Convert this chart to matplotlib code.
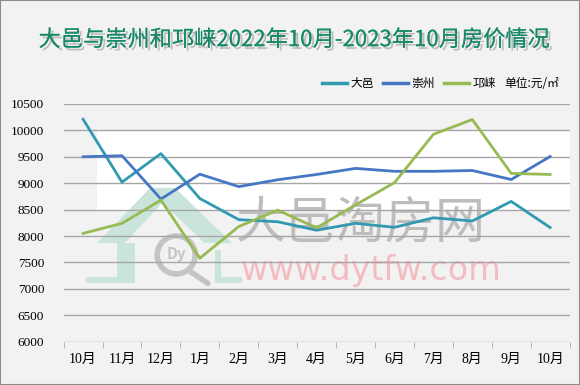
import matplotlib
matplotlib.use("Agg")
import matplotlib.pyplot as plt
import matplotlib.patheffects as pe
from matplotlib.patches import Polygon, Rectangle, Ellipse
import numpy as np

plt.rcParams["font.family"] = ["Noto Sans CJK SC", "DejaVu Sans"]

# data (元/㎡)
months = ["10月", "11月", "12月", "1月", "2月", "3月", "4月",
          "5月", "6月", "7月", "8月", "9月", "10月"]
dayi = [10210, 9020, 9560, 8710, 8310, 8270, 8110, 8240, 8165, 8345, 8285, 8655, 8160]
chongzhou = [9500, 9520, 8700, 9170, 8935, 9065, 9165, 9280, 9225, 9225, 9240, 9070, 9505]
qionglai = [8050, 8240, 8680, 7580, 8180, 8490, 8155, 8590, 9010, 9925, 10205, 9185, 9165]
yticks = list(range(6000, 10501, 500))

bg = "#F2F2F2"
fig = plt.figure(figsize=(5.8, 3.85), dpi=100, facecolor=bg)
fig.patches.append(Rectangle((0, 0), 1, 1, transform=fig.transFigure,
                             fill=False, edgecolor="#8C8C8C", linewidth=1.5))
ax = fig.add_axes([0.1097, 0.1125, 0.8724, 0.6175])
ax.set_facecolor(bg)

x = np.arange(len(months))
ax.set_xlim(-0.5, len(months) - 0.5)
ax.set_ylim(6000, 10500)

# white band behind the upper lines (as in the source image)
ax.add_patch(Rectangle((0.066, 8500), 0.934, 1500, transform=ax.get_yaxis_transform(),
                       facecolor="white", edgecolor="none", zorder=0))

# watermark: house logo + site name
wm = "#C9E4DA"
roof = Polygon([(0.066, 0.415), (0.171, 0.647), (0.220, 0.647), (0.333, 0.415),
                (0.279, 0.415), (0.195, 0.584), (0.121, 0.415)],
               closed=True, transform=ax.transAxes, facecolor=wm, edgecolor="none", zorder=1)
left_wall = Polygon([(0.1055, 0.415), (0.141, 0.415), (0.141, 0.247), (0.044, 0.247),
                     (0.044, 0.272), (0.1055, 0.272)],
                    closed=True, transform=ax.transAxes, facecolor=wm, edgecolor="none", zorder=1)
right_wall = Polygon([(0.299, 0.386), (0.311, 0.386), (0.311, 0.272), (0.353, 0.272),
                      (0.353, 0.247), (0.299, 0.247)],
                     closed=True, transform=ax.transAxes, facecolor=wm, edgecolor="none", zorder=1)
for p in (roof, left_wall, right_wall):
    ax.add_patch(p)
ax.add_patch(Ellipse((0.2225, 0.365), 0.075, 0.16, transform=ax.transAxes, fill=False,
                     edgecolor="#C4C4C4", linewidth=4, zorder=1))
ax.plot([0.247, 0.285], [0.30, 0.245], transform=ax.transAxes, color="#C4C4C4",
        linewidth=4, solid_capstyle="round", zorder=1)
ax.text(0.222, 0.37, "Dy", transform=ax.transAxes, fontsize=11, color="#C4C4C4",
        ha="center", va="center", style="italic", fontweight="bold", zorder=1)
ax.text(0.34, 0.495, "大邑淘房网", transform=ax.transAxes, fontsize=36, color="#BDBDBD",
        ha="left", va="center", zorder=1)
ax.text(0.35, 0.30, "www.dytfw.com", transform=ax.transAxes, fontsize=24, color="#F2BCC0",
        family=["DejaVu Sans"], ha="left", va="center", zorder=1)

for y in yticks:
    ax.axhline(y, color="#A6A6A6", linewidth=1, zorder=2)

ax.plot(x, dayi, color="#3199B0", linewidth=2, label="大邑", zorder=3)
ax.plot(x, chongzhou, color="#4677C4", linewidth=2, label="崇州", zorder=3)
ax.plot(x, qionglai, color="#98BA52", linewidth=2, label="邛崃", zorder=3)

for s in ax.spines.values():
    s.set_visible(False)

ax.set_yticks(yticks)
ax.set_yticklabels([str(v) for v in yticks], family=["Liberation Serif", "DejaVu Serif"],
                   fontsize=9.5)
ax.tick_params(axis="y", length=0, pad=14)

ax.set_xticks(x)
ax.set_xticklabels(months, family=["Liberation Serif", "Noto Sans CJK SC"], fontsize=10)
ax.set_xticks(np.arange(-0.5, len(months)), minor=True)
ax.tick_params(axis="x", which="major", length=0, pad=8)
ax.tick_params(axis="x", which="minor", length=4, color="#A6A6A6", direction="out")

title = fig.text(0.508, 0.897, "大邑与崇州和邛崃2022年10月-2023年10月房价情况",
                 ha="center", va="center", fontsize=16, color="#178A69")
title.set_path_effects([pe.withSimplePatchShadow(offset=(2, -2), shadow_rgbFace="#888888", alpha=0.5),
                        pe.Normal()])

leg = ax.legend(ncol=3, loc="center left", bbox_to_anchor=(0.555, 0.784),
                bbox_transform=fig.transFigure, frameon=False, fontsize=8.5,
                borderpad=0, borderaxespad=0,
                handlelength=2.1, handletextpad=0.3, columnspacing=0.8)
for line in leg.get_lines():
    line.set_linewidth(2.5)
fig.text(0.869, 0.784, "单位:元/㎡", ha="left", va="center", fontsize=8.5)

fig.savefig("out.png", dpi=100, facecolor=bg)
